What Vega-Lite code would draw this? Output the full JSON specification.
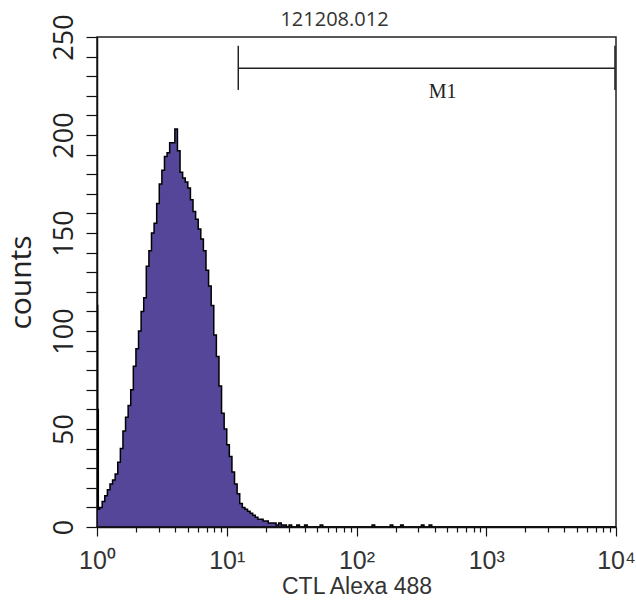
{
  "$schema": "https://vega.github.io/schema/vega-lite/v6.json",
  "autosize": {"type": "none"},
  "padding": {"left": 97, "top": 37, "right": 20, "bottom": 74},
  "width": 519,
  "height": 490,
  "background": "white",
  "title": {"text": "121208.012", "font": "Open Sans", "fontSize": 20, "fontWeight": "normal", "color": "#333333", "dx": -22, "dy": 40, "offset": 8, "anchor": "middle", "baseline": "alphabetic"},
  "config": {
    "view": {"stroke": "#222222", "strokeWidth": 1.5},
    "axis": {"domainColor": "#111111", "domainWidth": 1.5, "tickColor": "#111111", "tickWidth": 1.2, "grid": false, "labelOverlap": false}
  },
  "resolve": {"axis": {"y": "independent"}},
  "layer": [
    {
      "data": {"values": [
        {"fluor": 1, "count": 113},
        {"fluor": 1.0116, "count": 60},
        {"fluor": 1.0233, "count": 9},
        {"fluor": 1.0471, "count": 10},
        {"fluor": 1.0965, "count": 13},
        {"fluor": 1.1482, "count": 16},
        {"fluor": 1.2023, "count": 19},
        {"fluor": 1.2589, "count": 22},
        {"fluor": 1.3183, "count": 24},
        {"fluor": 1.3804, "count": 27},
        {"fluor": 1.4454, "count": 33},
        {"fluor": 1.5136, "count": 40},
        {"fluor": 1.5849, "count": 49},
        {"fluor": 1.6596, "count": 56},
        {"fluor": 1.7378, "count": 62},
        {"fluor": 1.8197, "count": 70},
        {"fluor": 1.9055, "count": 82},
        {"fluor": 1.9953, "count": 91},
        {"fluor": 2.0893, "count": 100},
        {"fluor": 2.1878, "count": 110},
        {"fluor": 2.2909, "count": 117},
        {"fluor": 2.3988, "count": 133},
        {"fluor": 2.5119, "count": 141},
        {"fluor": 2.6303, "count": 150},
        {"fluor": 2.7542, "count": 155},
        {"fluor": 2.884, "count": 165},
        {"fluor": 3.02, "count": 175},
        {"fluor": 3.1623, "count": 182},
        {"fluor": 3.3113, "count": 189},
        {"fluor": 3.4674, "count": 191},
        {"fluor": 3.6308, "count": 196},
        {"fluor": 3.8019, "count": 196},
        {"fluor": 3.9811, "count": 203},
        {"fluor": 4.1687, "count": 192},
        {"fluor": 4.3652, "count": 181},
        {"fluor": 4.5709, "count": 178},
        {"fluor": 4.7863, "count": 176},
        {"fluor": 5.0119, "count": 173},
        {"fluor": 5.2481, "count": 167},
        {"fluor": 5.4954, "count": 161},
        {"fluor": 5.7544, "count": 157},
        {"fluor": 6.0256, "count": 152},
        {"fluor": 6.3096, "count": 147},
        {"fluor": 6.6069, "count": 141},
        {"fluor": 6.9183, "count": 131},
        {"fluor": 7.2444, "count": 123},
        {"fluor": 7.5858, "count": 113},
        {"fluor": 7.9433, "count": 98},
        {"fluor": 8.3176, "count": 87},
        {"fluor": 8.7096, "count": 72},
        {"fluor": 9.1201, "count": 58},
        {"fluor": 9.5499, "count": 50},
        {"fluor": 10, "count": 42},
        {"fluor": 10.471, "count": 36},
        {"fluor": 10.965, "count": 28},
        {"fluor": 11.482, "count": 22},
        {"fluor": 12.023, "count": 17},
        {"fluor": 12.589, "count": 12},
        {"fluor": 13.183, "count": 10},
        {"fluor": 13.804, "count": 9},
        {"fluor": 14.454, "count": 8},
        {"fluor": 15.136, "count": 7},
        {"fluor": 15.849, "count": 6},
        {"fluor": 16.596, "count": 5},
        {"fluor": 17.378, "count": 4},
        {"fluor": 18.197, "count": 4},
        {"fluor": 19.055, "count": 3},
        {"fluor": 19.953, "count": 3},
        {"fluor": 20.893, "count": 2},
        {"fluor": 21.878, "count": 2},
        {"fluor": 22.909, "count": 2},
        {"fluor": 23.988, "count": 1},
        {"fluor": 25.119, "count": 2},
        {"fluor": 26.303, "count": 1},
        {"fluor": 27.542, "count": 1},
        {"fluor": 28.84, "count": 0},
        {"fluor": 30.2, "count": 1},
        {"fluor": 31.623, "count": 0},
        {"fluor": 34.674, "count": 1},
        {"fluor": 36.308, "count": 0},
        {"fluor": 39.811, "count": 1},
        {"fluor": 41.687, "count": 0},
        {"fluor": 52.481, "count": 1},
        {"fluor": 54.954, "count": 0},
        {"fluor": 131.83, "count": 1},
        {"fluor": 138.04, "count": 0},
        {"fluor": 181.97, "count": 1},
        {"fluor": 190.55, "count": 0},
        {"fluor": 218.78, "count": 1},
        {"fluor": 229.09, "count": 0},
        {"fluor": 316.23, "count": 1},
        {"fluor": 331.13, "count": 0},
        {"fluor": 363.08, "count": 1},
        {"fluor": 380.19, "count": 0},
        {"fluor": 10000, "count": 0}
      ]},
      "mark": {"type": "area", "interpolate": "step-after", "color": "#56469a", "stroke": "#000000", "strokeWidth": 1.5, "clip": true},
      "encoding": {
        "x": {
          "field": "fluor", "type": "quantitative",
          "scale": {"type": "log", "domain": [1, 10000], "nice": false},
          "axis": {
            "title": "CTL Alexa 488",
            "titleFont": "Liberation Sans", "titleFontSize": 23, "titleFontWeight": "normal", "titleColor": "#333333", "titlePadding": 2,
            "values": [1,2,3,4,5,6,7,8,9,10,20,30,40,50,60,70,80,90,100,200,300,400,500,600,700,800,900,1000,2000,3000,4000,5000,6000,7000,8000,9000,10000],
            "labelExpr": "datum.value == 1 ? '10⁰' : datum.value == 10 ? '10¹' : datum.value == 100 ? '10²' : datum.value == 1000 ? '10³' : datum.value == 10000 ? '10⁴' : ''",
            "labelFont": "Liberation Sans", "labelFontSize": 25, "labelColor": "#333333", "labelPadding": 12, "labelFlush": false, "labelOverlap": false, "labelBound": false,
            "tickSize": {"condition": {"test": "indexof([1,10,100,1000,10000], datum.value) >= 0", "value": 9}, "value": 5}
          }
        },
        "y": {
          "field": "count", "type": "quantitative",
          "scale": {"domain": [0, 250], "nice": false, "zero": true},
          "axis": {
            "orient": "left",
            "title": "counts",
            "titleFont": "Open Sans", "titleFontSize": 30, "titleFontWeight": "normal", "titleColor": "#222222", "titlePadding": 14,
            "values": [0, 50, 100, 150, 200, 250],
            "labelAngle": -90, "labelAlign": "center", "labelBaseline": "bottom",
            "labelFont": "Open Sans", "labelFontSize": 27, "labelColor": "#222222", "labelPadding": 8, "labelOverlap": false, "labelFlush": false, "labelBound": false,
            "tickSize": 11
          }
        }
      }
    },
    {
      "data": {"values": [{"start": 12.27, "end": 9818, "level": 234}]},
      "mark": {"type": "rule", "color": "#222222", "strokeWidth": 1.5},
      "encoding": {
        "x": {"field": "start", "type": "quantitative"},
        "x2": {"field": "end"},
        "y": {
          "field": "level", "type": "quantitative",
          "axis": {
            "orient": "left", "title": null, "labels": false, "domain": false,
            "values": [10,20,30,40,60,70,80,90,110,120,130,140,160,170,180,190,210,220,230,240],
            "tickSize": 11
          }
        }
      }
    },
    {
      "data": {"values": [{"pos": 12.27, "lo": 223, "hi": 245.5}, {"pos": 9818, "lo": 223, "hi": 245.5}]},
      "mark": {"type": "rule", "color": "#222222", "strokeWidth": 1.5},
      "encoding": {
        "x": {"field": "pos", "type": "quantitative"},
        "y": {"field": "lo", "type": "quantitative", "axis": null},
        "y2": {"field": "hi"}
      }
    },
    {
      "data": {"values": [{"pos": 461, "level": 222, "label": "M1"}]},
      "mark": {"type": "text", "font": "Liberation Serif", "fontSize": 20, "color": "#222222", "align": "center", "baseline": "middle"},
      "encoding": {
        "x": {"field": "pos", "type": "quantitative"},
        "y": {"field": "level", "type": "quantitative", "axis": null},
        "text": {"field": "label"}
      }
    }
  ]
}
